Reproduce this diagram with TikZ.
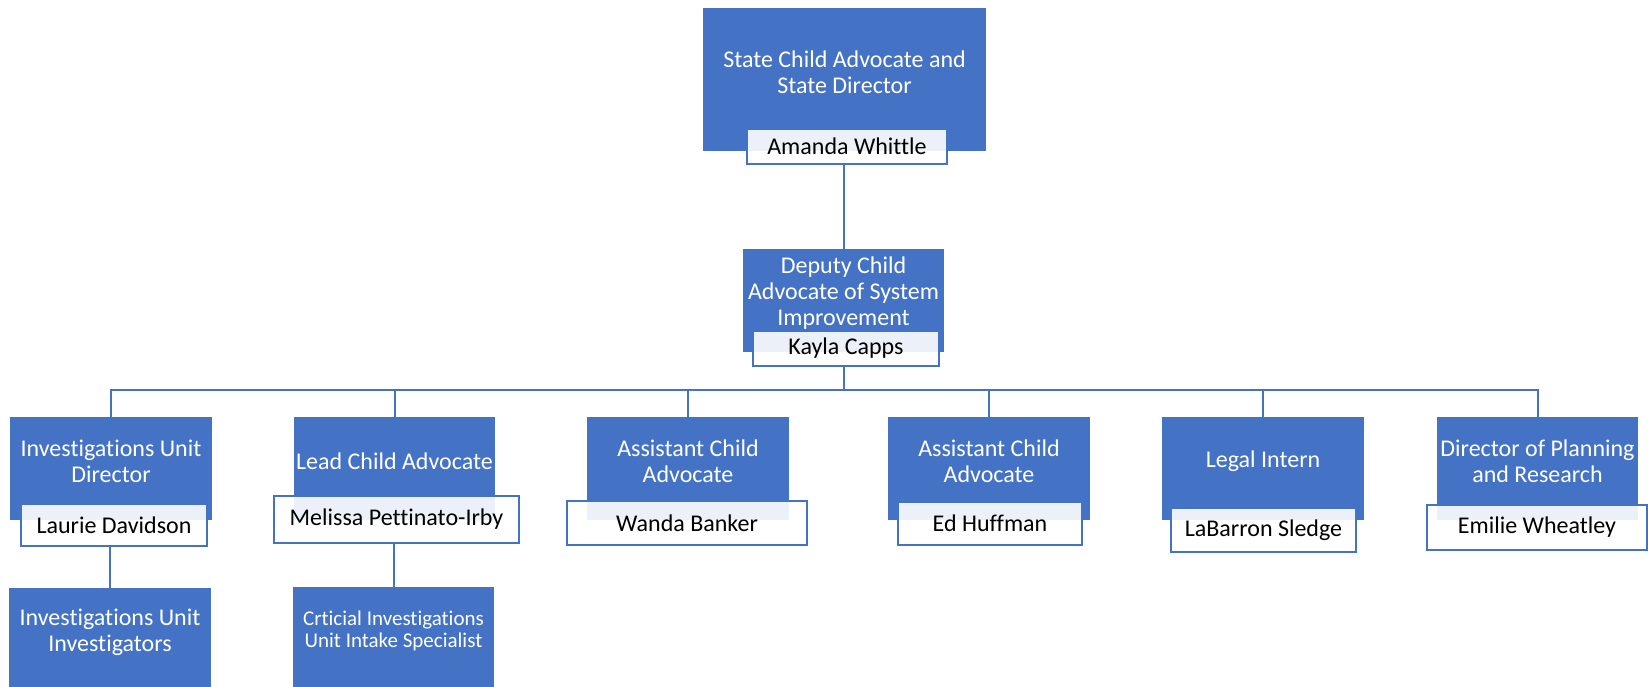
\documentclass[tikz,border=0pt]{standalone}
\usepackage{fontspec}
\setmainfont{Carlito}[Ligatures=NoCommon]
\definecolor{ocblue}{HTML}{4472C4}

\begin{document}
\begin{tikzpicture}[x=1pt, y=-1pt,
  role/.style={rectangle, fill=ocblue, text=white, align=center, inner sep=0pt, anchor=north,
    minimum width=202, minimum height=88, font=\fontsize{24}{26}\selectfont},
  person/.style={rectangle, draw=ocblue, line width=2, fill=white, fill opacity=0.9, text opacity=1,
    text=black, inner sep=0pt, minimum height=44, font=\fontsize{24}{26}\selectfont},
  link/.style={draw=ocblue, line width=2}]
\useasboundingbox (0,0) rectangle (1648,686);
\path (844.5,8) node[role, minimum width=283, minimum height=128](sca) {State Child Advocate and\\State Director}
(843.5,249) node[role, minimum width=201](dca) {Deputy Child\\Advocate of System\\Improvement}
(111,417) node[role](iud) {Investigations Unit\\Director}
(394.5,417) node[role, minimum width=201](lca) {Lead Child Advocate}
(688,417) node[role](aca) {Assistant Child\\Advocate}
(989,417) node[role](acb) {Assistant Child\\Advocate}
(1263,417) node[role](lin) {Legal Intern}
(1537.5,417) node[role, minimum width=201](dpr) {Director of Planning\\and Research}
(110,588) node[role](iui) {Investigations Unit\\Investigators}
(393.5,587) node[role, minimum width=201, font=\fontsize{21}{22}\selectfont](cis) {Crticial Investigations\\Unit Intake Specialist};
% blue runs on under the name boxes
\foreach \r in {sca,dca,iud,lca,aca,acb,lin,dpr,iui,cis}
  \fill[ocblue] (\r.south west) rectangle ([yshift=-15]\r.south east);
\path (847,146.5) node[person, minimum width=200, minimum height=35](scan) {Amanda Whittle}
(846,348.5) node[person, minimum width=186, minimum height=35](dcan) {Kayla Capps}
(114,525) node[person, minimum width=186, minimum height=42](iudn) {Laurie Davidson}
(396.5,519.5) node[person, minimum width=245, minimum height=47](lcan) {Melissa Pettinato-Irby}
(687,523) node[person, minimum width=240](acan) {Wanda Banker}
(990,523.5) node[person, minimum width=184, minimum height=43](acbn) {Ed Huffman}
(1263.5,530) node[person, minimum width=185](linn) {LaBarron Sledge}
(1537,527.5) node[person, minimum width=220, minimum height=45](dprn) {Emilie Wheatley};
\coordinate (bus) at (844,390);
\draw[link] (dca.north |- scan.south) -- (dca.north);
\draw[link] (dcan.south -| bus) -- (bus);
\foreach \c in {iud,lca,aca,acb,lin,dpr}
  \draw[link] (bus) -| (\c.north);
\draw[link] (iudn.south -| iui.north) -- (iui.north);
\draw[link] (lcan.south -| cis.north) -- (cis.north);
\end{tikzpicture}
\end{document}
